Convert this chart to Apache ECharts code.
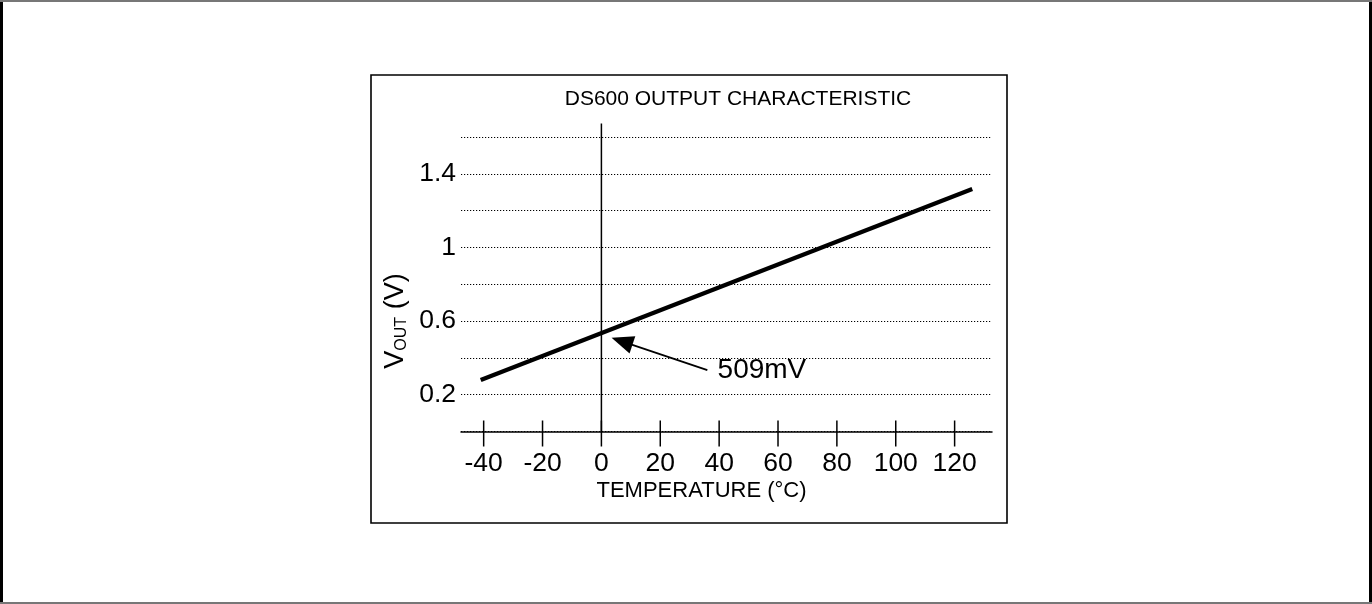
<!DOCTYPE html>
<html><head><meta charset="utf-8">
<script src="https://cdn.jsdelivr.net/npm/echarts@6/dist/echarts.min.js"></script>
<style>html,body{margin:0;padding:0;background:#fff}#c{width:1372px;height:604px}</style>
</head><body><div id="c"></div>
<script>
// ---- data ----
const temperatureC = [-41, 126];
const voutV = [0.28, 1.318];
const xTickValues = [-40, -20, 0, 20, 40, 60, 80, 100, 120];
const yLabelValues = [0.2, 0.6, 1.0, 1.4];
const yLabelTexts = ['0.2', '0.6', '1', '1.4'];
const titleText = 'DS600 OUTPUT CHARACTERISTIC';
const xNameText = 'TEMPERATURE (°C)';
const annotationText = '509mV';
const arrowHead = [7, 0.49];
const arrowTail = [36, 0.334];
const annotationAt = [39.3, 0.33];
const zeroLineTop = [0, 1.674];

const FONT = '"Liberation Sans", Arial, Helvetica, sans-serif';
const chart = echarts.init(document.getElementById('c'), null, {renderer: 'canvas'});

const option = {
  animation: false,
  backgroundColor: '#fff',
  grid: {left: 461, right: 380, top: 137.1, bottom: 172.5, containLabel: false},
  xAxis: {
    type: 'value', min: -47.7, max: 132.7, splitNumber: 9,
    axisLine: {show: true, onZero: false, lineStyle: {color: '#000', width: 1.5}},
    axisTick: {show: false},
    splitLine: {show: false},
    axisLabel: {
      color: '#000', fontSize: 26.5, fontFamily: FONT, margin: 19,
      showMinLabel: true, showMaxLabel: true,
      formatter: v => (xTickValues.indexOf(Math.round(v)) >= 0 && Math.abs(v - Math.round(v)) < 1e-6) ? String(Math.round(v)) : ''
    }
  },
  yAxis: {
    type: 'value', min: 0, max: 1.6, interval: 0.2,
    axisLine: {show: false},
    axisTick: {show: false},
    splitLine: {show: true, lineStyle: {color: '#000', width: 1.2, type: [1.2, 1.8]}},
    axisLabel: {
      color: '#000', fontSize: 26.5, fontFamily: FONT, margin: 5,
      formatter: v => {
        for (let i = 0; i < yLabelValues.length; i++) {
          if (Math.abs(v - yLabelValues[i]) < 1e-6) return yLabelTexts[i];
        }
        return '';
      }
    }
  },
  series: [
    {
      type: 'line',
      data: temperatureC.map((t, i) => [t, voutV[i]]),
      symbol: 'none', showSymbol: false,
      lineStyle: {color: '#000', width: 4.2},
      z: 5,
      markLine: {
        silent: true,
        symbol: ['triangle', 'none'],
        symbolSize: [18, 22],
        lineStyle: {color: '#000', width: 1.8, type: 'solid'},
        label: {show: false},
        data: [[{coord: arrowHead}, {coord: arrowTail}]]
      },
      markPoint: {
        silent: true,
        symbol: 'circle', symbolSize: 1,
        itemStyle: {color: 'rgba(0,0,0,0)'},
        label: {show: true, position: 'right', distance: 0, formatter: annotationText,
                color: '#000', fontSize: 28, fontFamily: FONT},
        data: [{coord: annotationAt}]
      }
    },
    {
      type: 'custom',
      clip: false,
      silent: true,
      data: xTickValues.map(v => [v, 0]),
      encode: {x: 0, y: 1},
      renderItem: (params, api) => {
        const p = api.coord([api.value(0), 0]);
        return {type: 'line', shape: {x1: p[0], y1: p[1] - 11, x2: p[0], y2: p[1] + 15},
                style: {stroke: '#000', lineWidth: 1.5}};
      },
      z: 6
    },
    {
      type: 'custom',
      clip: false,
      silent: true,
      data: [zeroLineTop],
      encode: {x: 0, y: 1},
      renderItem: (params, api) => {
        const p0 = api.coord([api.value(0), 0]);
        const p1 = api.coord([api.value(0), api.value(1)]);
        return {type: 'line', shape: {x1: p0[0], y1: p0[1], x2: p1[0], y2: p1[1]},
                style: {stroke: '#000', lineWidth: 1.5}};
      },
      z: 6
    }
  ],
  graphic: [
    {type: 'rect', shape: {x: 0, y: 0, width: 3, height: 604}, style: {fill: '#000'}, silent: true},
    {type: 'rect', shape: {x: 1369, y: 0, width: 3, height: 604}, style: {fill: '#000'}, silent: true},
    {type: 'rect', shape: {x: 0, y: 0, width: 1372, height: 2}, style: {fill: '#777'}, silent: true},
    {type: 'rect', shape: {x: 0, y: 602, width: 1372, height: 2}, style: {fill: '#777'}, silent: true},
    {type: 'rect', shape: {x: 371, y: 75, width: 636, height: 448}, style: {fill: 'none', stroke: '#000', lineWidth: 1.6}, silent: true},
    {type: 'text', x: 738, y: 99, silent: true,
     style: {text: titleText, fill: '#000', font: '21px ' + FONT, align: 'center', verticalAlign: 'middle', textAlign: 'center', textVerticalAlign: 'middle'}},
    {type: 'text', x: 701.5, y: 490.5, silent: true,
     style: {text: xNameText, fill: '#000', font: '22px ' + FONT, align: 'center', verticalAlign: 'middle', textAlign: 'center', textVerticalAlign: 'middle'}},
    {type: 'text', x: 396, y: 321, rotation: Math.PI / 2, silent: true,
     style: {text: '{v|V}{s|OUT}{v| (V)}', align: 'center', verticalAlign: 'middle', textAlign: 'center', textVerticalAlign: 'middle',
       rich: {
         v: {fontSize: 27, fontFamily: FONT, fill: '#000', verticalAlign: 'bottom'},
         s: {fontSize: 16, fontFamily: FONT, fill: '#000', verticalAlign: 'bottom'}
       }}}
  ]
};
chart.setOption(option);
</script>
</body></html>
